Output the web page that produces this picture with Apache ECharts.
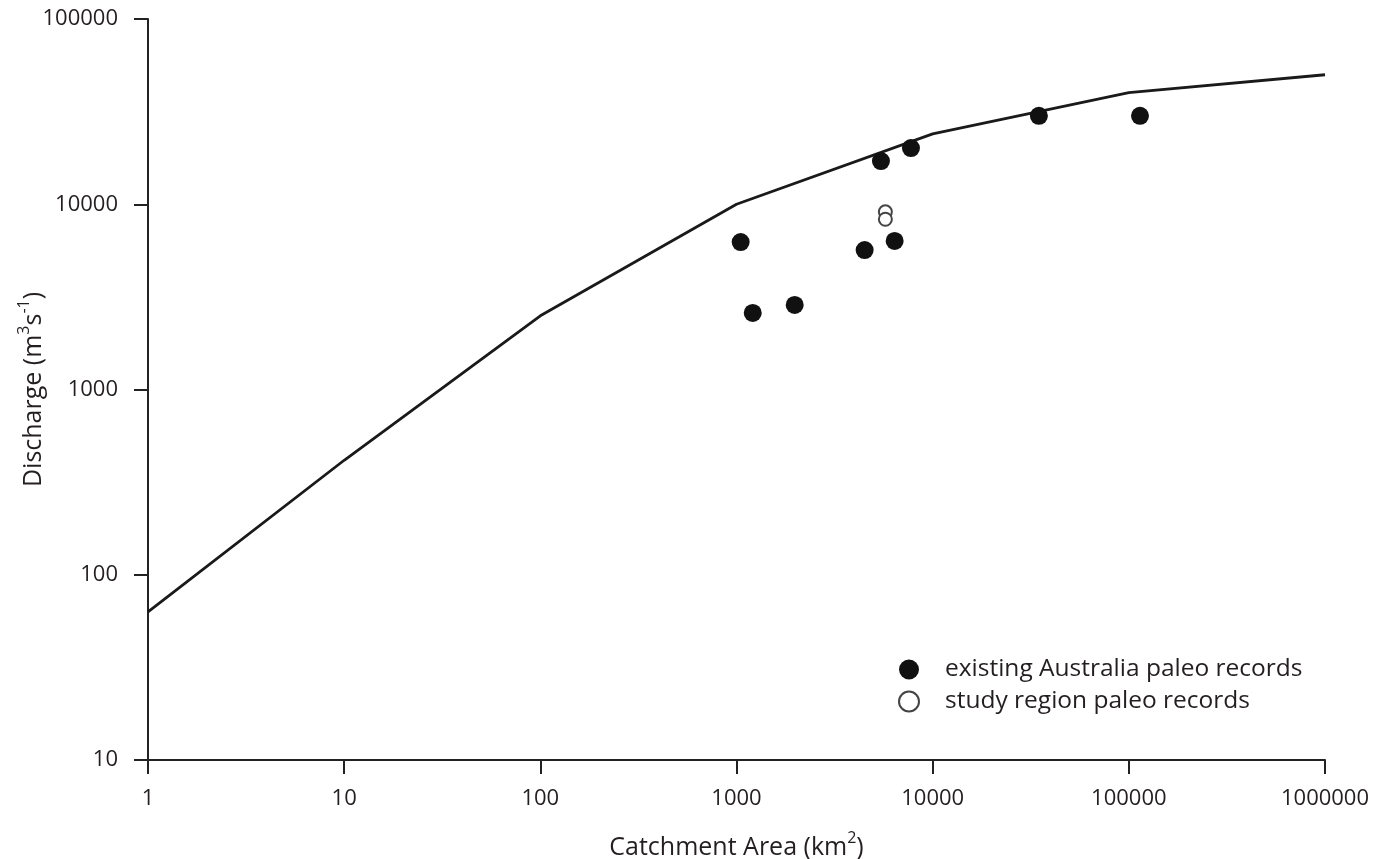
<!DOCTYPE html>
<html>
<head>
<meta charset="utf-8">
<style>
  html, body { margin: 0; padding: 0; background: #fff; }
  #chart { width: 1385px; height: 859px; }
</style>
<script src="https://cdn.jsdelivr.net/npm/echarts@6/dist/echarts.min.js"></script>
</head>
<body>
<div id="chart"></div>
<script>
// envelope curve (catchment area km2, discharge m3/s)
const curveArea = [1, 10, 100, 1000, 10000, 100000, 1000000]
const curveQ = [63, 415, 2500, 10000, 24000, 40000, 50000]

// existing Australia paleo records
const ausArea = [1050, 1210, 1980, 4500, 6400, 5450, 7750, 34800, 114000]
const ausQ = [6250, 2590, 2860, 5660, 6340, 17100, 20100, 30000, 30000]

// study region paleo records
const studyArea = [5740, 5740]
const studyQ = [9100, 8300]

const textColor = '#231f20'
const font = 'Open Sans'

const chart = echarts.init(document.getElementById('chart'))

// rich text styles for superscripts in axis titles
const titleRich = {
  a: { fontFamily: font, fontSize: 25, color: textColor, lineHeight: 30, verticalAlign: 'bottom' },
  s: { fontFamily: font, fontSize: 16, color: textColor, lineHeight: 30, verticalAlign: 'top' }
}

const option = {
  animation: false,
  grid: { left: 148, right: 60, top: 19, bottom: 99, outerBoundsMode: 'none' },
  legend: {
    orient: 'vertical',
    left: 893,
    top: 652,
    itemGap: 7,
    itemWidth: 22,
    itemHeight: 20,
    data: ['existing Australia paleo records', 'study region paleo records'],
    textStyle: { fontFamily: font, fontSize: 24.5, color: textColor, padding: [0, 0, 0, 20] }
  },
  xAxis: {
    type: 'log',
    logBase: 10,
    min: 1,
    max: 1000000,
    name: '{a|Catchment Area (km}{s|2}{a|)}',
    nameLocation: 'middle',
    nameGap: 70,
    nameMoveOverlap: false,
    nameTextStyle: { rich: titleRich },
    axisLine: { lineStyle: { color: '#222', width: 2 } },
    axisTick: { inside: false, length: 14, lineStyle: { color: '#222', width: 2 } },
    minorTick: { show: false },
    splitLine: { show: false },
    axisLabel: {
      fontFamily: font, fontSize: 22, color: textColor, margin: 28,
      formatter: v => String(Math.round(v))
    }
  },
  yAxis: {
    type: 'log',
    logBase: 10,
    min: 10,
    max: 100000,
    name: '{a|Discharge (m}{s|3}{a|s}{s|-1}{a|)}',
    nameLocation: 'middle',
    nameGap: 102,
    nameMoveOverlap: false,
    nameTextStyle: { rich: titleRich },
    axisLine: { lineStyle: { color: '#222', width: 2 } },
    axisTick: { inside: false, length: 14, lineStyle: { color: '#222', width: 2 } },
    minorTick: { show: false },
    splitLine: { show: false },
    axisLabel: {
      fontFamily: font, fontSize: 22, color: textColor, margin: 30,
      formatter: v => String(Math.round(v))
    }
  },
  series: [
    {
      name: 'envelope',
      type: 'line',
      data: curveArea.map((a, i) => [a, curveQ[i]]),
      showSymbol: false,
      lineStyle: { color: '#1a1a1a', width: 2.8 },
      z: 1
    },
    {
      name: 'existing Australia paleo records',
      type: 'scatter',
      data: ausArea.map((a, i) => [a, ausQ[i]]),
      symbol: 'circle',
      symbolSize: 18,
      itemStyle: { color: '#111', opacity: 1 },
      z: 3
    },
    {
      name: 'study region paleo records',
      type: 'scatter',
      data: studyArea.map((a, i) => [a, studyQ[i]]),
      symbol: 'circle',
      symbolSize: 13,
      itemStyle: { color: '#fff', borderColor: '#444', borderWidth: 2, opacity: 1 },
      z: 2
    }
  ]
}

chart.setOption(option)
</script>
</body>
</html>
